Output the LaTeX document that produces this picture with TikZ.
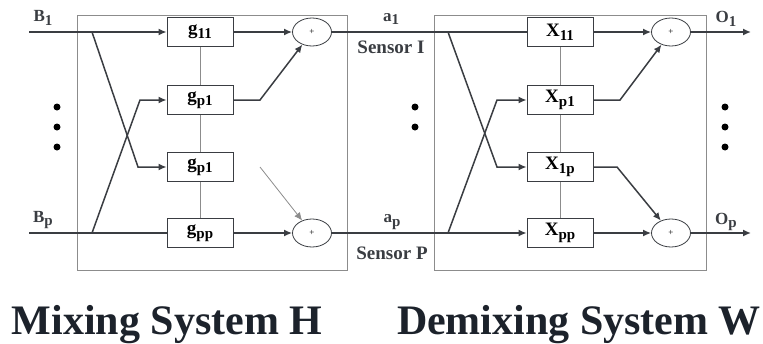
\documentclass[tikz,border=0pt]{standalone}
\usepackage{fontspec}
\setmainfont{Liberation Serif}
\definecolor{mylinegray}{HTML}{3A3D42}
\definecolor{myframegray}{HTML}{8C8C8C}
\definecolor{mytitleblack}{HTML}{1C222B}
\usetikzlibrary{positioning, shapes.geometric, arrows.meta, calc}
\tikzset{
	gainnode/.style={
			rectangle,
			draw=mylinegray,
			thick,
			fill=white,
			minimum width=66pt,
			minimum height=29pt,
			inner sep=0pt,
			font=\bfseries\fontsize{19}{19}\selectfont
		},
	sumnode/.style={
			ellipse,
			draw=mylinegray,
			thick,
			fill=white,
			minimum width=39pt,
			minimum height=28pt,
			inner sep=0pt,
			font=\fontsize{9}{9}\selectfont
		},
	signalnode/.style={
			inner sep=0pt,
			text=mylinegray,
			font=\bfseries\fontsize{17}{17}\selectfont
		},
	sensornode/.style={
			inner sep=0pt,
			text=mylinegray,
			font=\bfseries\fontsize{19}{19}\selectfont
		},
	titlenode/.style={
			inner sep=0pt,
			text=mytitleblack,
			font=\bfseries\fontsize{42}{42}\selectfont
		},
	dotnode/.style={
			circle,
			fill=black,
			minimum size=7pt,
			inner sep=0pt
		},
	framebox/.style={
			draw=myframegray,
			line width=0.9pt
		},
	linkline/.style={
			draw=mylinegray,
			line width=1.5pt
		},
	thinlink/.style={
			draw=myframegray,
			line width=0.8pt
		}
}
\newcommand{\idx}[1]{\raisebox{-0.45ex}{\fontsize{15}{15}\selectfont #1}}

\begin{document}
\begin{tikzpicture}[x=1pt, y=-1pt, >={Latex[length=8pt,width=7pt]}]
    \useasboundingbox (0,0) rectangle (763,343);

    % frames
    \draw[framebox] (77,15) rectangle (347,270);
    \draw[framebox] (434,15) rectangle (706,270);

    % mixing system
    \node[gainnode] (g11) at (200,32)  { g\idx{11} };
    \node[gainnode] (gp1a) at (200,100)  { g\idx{p1} };
    \node[gainnode] (gp1b) at (200,167)  { g\idx{p1} };
    \node[gainnode] (gpp) at (200,233)  { g\idx{pp} };
    \node[sumnode] (suma1) at (312,32)  { + };
    \node[sumnode] (sumap) at (312,233)  { + };

    % demixing system
    \node[gainnode] (x11) at (560,32)  { X\idx{11} };
    \node[gainnode] (xp1) at (560,100)  { X\idx{p1} };
    \node[gainnode] (x1p) at (560,167)  { X\idx{1p} };
    \node[gainnode] (xpp) at (560,233)  { X\idx{pp} };
    \node[sumnode] (sumo1) at (671,32)  { + };
    \node[sumnode] (sumop) at (671,233)  { + };

    \coordinate (b1in) at (29,32);
    \coordinate (bpin) at (29,233);
    \coordinate (b1fork) at (92,32);
    \coordinate (bpfork) at (92,233);
    \coordinate (b1bend) at (138,167);
    \coordinate (bpbend) at (140,100);
    \coordinate (gp1out) at (260,100);
    \coordinate (strayarrow) at (260,167);
    \coordinate (a1fork) at (448,32);
    \coordinate (apfork) at (448,233);
    \coordinate (a1bend) at (497,167);
    \coordinate (apbend) at (497,100);
    \coordinate (xp1out) at (620,100);
    \coordinate (x1pout) at (617,167);
    \coordinate (o1out) at (751,32);
    \coordinate (opout) at (751,233);

    \draw[thinlink] (g11) -- (gp1a);
    \draw[thinlink] (gp1a) -- (gp1b);
    \draw[thinlink] (gp1b) -- (gpp);
    \draw[thinlink] (x11) -- (xp1);
    \draw[thinlink] (xp1) -- (x1p);
    \draw[thinlink] (x1p) -- (xpp);

    \draw[linkline, ->] (b1in) -- (g11);
    \draw[linkline] (bpin) -- (gpp);
    \draw[linkline, ->] (b1fork) -- (b1bend) -- (gp1b);
    \draw[linkline, ->] (bpfork) -- (bpbend) -- (gp1a);
    \draw[linkline, ->] (g11) -- (suma1);
    \draw[linkline, ->] (gp1a) -- (gp1out) -- (suma1);
    \draw[linkline, ->] (gpp) -- (sumap);
    \draw[thinlink, ->] (strayarrow) -- (sumap);

    \draw[linkline] (suma1) -- (x11);
    \draw[linkline, ->] (sumap) -- (xpp);
    \draw[linkline, ->] (a1fork) -- (a1bend) -- (x1p);
    \draw[linkline, ->] (apfork) -- (apbend) -- (xp1);
    \draw[linkline, ->] (x11) -- (sumo1);
    \draw[linkline, ->] (xp1) -- (xp1out) -- (sumo1);
    \draw[linkline, ->] (x1p) -- (x1pout) -- (sumop);
    \draw[linkline, ->] (xpp) -- (sumop);
    \draw[linkline, ->] (sumo1) -- (o1out);
    \draw[linkline, ->] (sumop) -- (opout);

    % labels
    \node[signalnode] (b1lbl) at (43,18)  { B\idx{1} };
    \node[signalnode] (bplbl) at (43,220)  { B\idx{p} };
    \node[signalnode] (a1lbl) at (391,19)  { a\idx{1} };
    \node[signalnode] (aplbl) at (392,222)  { a\idx{p} };
    \node[sensornode] (sens1) at (391,47)  { Sensor I };
    \node[sensornode] (sensp) at (392,253)  { Sensor P };
    \node[signalnode] (o1lbl) at (726,19)  { O\idx{1} };
    \node[signalnode] (oplbl) at (726,222)  { O\idx{p} };

    \foreach \y [count=\i] in {107,127,147} {
        \node[dotnode] (dotl\i) at (57,\y) {};
        \node[dotnode] (dotr\i) at (725,\y) {};
    }
    \foreach \y [count=\i] in {107,127} {
        \node[dotnode] (dotm\i) at (415,\y) {};
    }

    \node[titlenode, anchor=base] (titleh) at (167,334)  { Mixing System H };
    \node[titlenode, anchor=base] (titlew) at (579,334)  { Demixing System W };
\end{tikzpicture}
\end{document}
